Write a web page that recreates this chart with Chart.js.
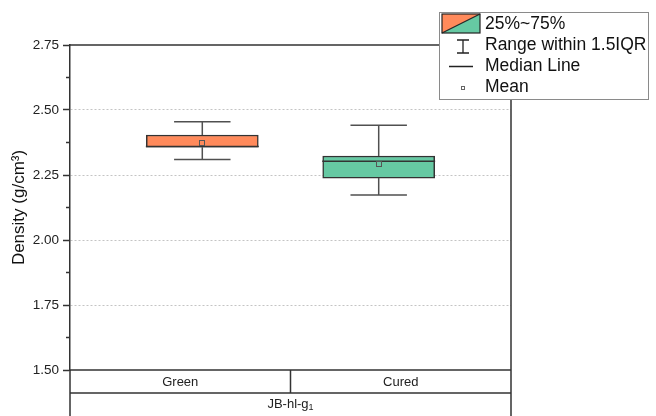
<!DOCTYPE html>
<html>
<head>
<meta charset="utf-8">
<script src="https://cdn.jsdelivr.net/npm/chart.js@4/dist/chart.umd.min.js"></script>
<style>
  html, body { margin: 0; padding: 0; background: #fff; }
  #wrap { width: 656px; height: 416px; }
</style>
</head>
<body>
<div id="wrap"><canvas id="myChart" width="656" height="416"></canvas></div>
<script>
// box plot values
const categories = ['Green', 'Cured'];
const q1 = [2.357, 2.238];
const q3 = [2.404, 2.323];
const median = [2.360, 2.303];
const whiskerLow = [2.310, 2.173];
const whiskerHigh = [2.455, 2.441];
const mean = [2.375, 2.292];
const yTicks = [1.50, 1.75, 2.00, 2.25, 2.50, 2.75];
const groupLabel = 'JB-hl-g';
const groupSub = '1';

const boxColors = ['#FF8A5B', '#66C9A3'];
const lineColor = '#333333';
const font = '"Liberation Sans", Arial, sans-serif';

// whiskers, median, mean
const boxExtras = {
    id: 'boxExtras',
    afterDatasetsDraw(chart) {
        const ctx = chart.ctx;
        const xs = chart.scales.x;
        const ys = chart.scales.y;
        ctx.save();
        for (let i = 0; i < categories.length; i++) {
            const xc = xs.getPixelForValue(i + 1);
            const capL = xs.getPixelForValue(i + 1 - 0.16);
            const capR = xs.getPixelForValue(i + 1 + 0.16);
            const boxL = xs.getPixelForValue(i + 1 - 0.32);
            const boxR = xs.getPixelForValue(i + 1 + 0.32);
            ctx.strokeStyle = '#505050';
            ctx.lineWidth = 1.5;
            ctx.beginPath();
            ctx.moveTo(xc, ys.getPixelForValue(whiskerHigh[i]));
            ctx.lineTo(xc, ys.getPixelForValue(q3[i]));
            ctx.moveTo(xc, ys.getPixelForValue(q1[i]));
            ctx.lineTo(xc, ys.getPixelForValue(whiskerLow[i]));
            ctx.moveTo(capL, ys.getPixelForValue(whiskerHigh[i]));
            ctx.lineTo(capR, ys.getPixelForValue(whiskerHigh[i]));
            ctx.moveTo(capL, ys.getPixelForValue(whiskerLow[i]));
            ctx.lineTo(capR, ys.getPixelForValue(whiskerLow[i]));
            ctx.stroke();
            // median
            ctx.strokeStyle = lineColor;
            ctx.lineWidth = 1.5;
            ctx.beginPath();
            ctx.moveTo(boxL, ys.getPixelForValue(median[i]));
            ctx.lineTo(boxR, ys.getPixelForValue(median[i]));
            ctx.stroke();
            // mean
            const my = ys.getPixelForValue(mean[i]);
            ctx.strokeStyle = '#555';
            ctx.lineWidth = 1;
            ctx.strokeRect(Math.round(xc) - 2.5, Math.round(my) - 2.5, 5, 5);
        }
        ctx.restore();
    }
};

// frame, minor ticks, category table and legend
const frame = {
    id: 'frame',
    afterDraw(chart) {
        const ctx = chart.ctx;
        const a = chart.chartArea;
        const ys = chart.scales.y;
        const mid = (a.left + a.right) / 2;
        const row1 = a.bottom + 23;
        const h = chart.height;
        ctx.save();
        ctx.strokeStyle = lineColor;
        ctx.lineWidth = 1.5;
        ctx.beginPath();
        ctx.moveTo(a.left, a.top);
        ctx.lineTo(a.right, a.top);
        ctx.moveTo(a.right, a.top);
        ctx.lineTo(a.right, h);
        ctx.moveTo(a.left, a.bottom);
        ctx.lineTo(a.right, a.bottom);
        ctx.moveTo(a.left, a.bottom);
        ctx.lineTo(a.left, h);
        ctx.moveTo(a.left, row1);
        ctx.lineTo(a.right, row1);
        ctx.moveTo(mid, a.bottom);
        ctx.lineTo(mid, row1);
        // minor ticks
        for (let i = 0; i < yTicks.length - 1; i++) {
            const y = ys.getPixelForValue((yTicks[i] + yTicks[i + 1]) / 2);
            ctx.moveTo(a.left - 4, y);
            ctx.lineTo(a.left, y);
        }
        ctx.stroke();

        ctx.fillStyle = '#222';
        ctx.font = '13px ' + font;
        ctx.textAlign = 'center';
        ctx.textBaseline = 'middle';
        ctx.fillText(categories[0], (a.left + mid) / 2, a.bottom + 12);
        ctx.fillText(categories[1], (mid + a.right) / 2, a.bottom + 12);
        const w1 = ctx.measureText(groupLabel).width;
        ctx.font = '9px ' + font;
        const w2 = ctx.measureText(groupSub).width;
        const gx = mid - (w1 + w2) / 2;
        ctx.textAlign = 'left';
        ctx.font = '13px ' + font;
        ctx.fillText(groupLabel, gx, row1 + 11);
        ctx.font = '9px ' + font;
        ctx.fillText(groupSub, gx + w1, row1 + 15);

        // legend
        const lx = 439, ly = 12, lw = 209, lh = 87;
        ctx.fillStyle = '#fff';
        ctx.fillRect(lx, ly, lw, lh);
        ctx.strokeStyle = '#8a8a8a';
        ctx.lineWidth = 1;
        ctx.strokeRect(lx + 0.5, ly + 0.5, lw, lh);

        const sx = 442, sy = 14, sw = 38, sh = 19;
        ctx.fillStyle = boxColors[0];
        ctx.beginPath();
        ctx.moveTo(sx, sy); ctx.lineTo(sx + sw, sy); ctx.lineTo(sx, sy + sh); ctx.closePath();
        ctx.fill();
        ctx.fillStyle = boxColors[1];
        ctx.beginPath();
        ctx.moveTo(sx + sw, sy); ctx.lineTo(sx + sw, sy + sh); ctx.lineTo(sx, sy + sh); ctx.closePath();
        ctx.fill();
        ctx.strokeStyle = '#222';
        ctx.lineWidth = 1.2;
        ctx.strokeRect(sx, sy, sw, sh);
        ctx.beginPath();
        ctx.moveTo(sx, sy + sh); ctx.lineTo(sx + sw, sy);
        ctx.stroke();

        ctx.strokeStyle = '#222';
        ctx.lineWidth = 1.3;
        ctx.beginPath();
        ctx.moveTo(463, 40); ctx.lineTo(463, 53);
        ctx.moveTo(457, 40); ctx.lineTo(469, 40);
        ctx.moveTo(457, 53); ctx.lineTo(469, 53);
        ctx.moveTo(449, 66.5); ctx.lineTo(473, 66.5);
        ctx.stroke();
        ctx.strokeStyle = '#666';
        ctx.lineWidth = 1;
        ctx.strokeRect(461.5, 86.5, 3, 3);

        ctx.fillStyle = '#111';
        ctx.font = '17.5px ' + font;
        ctx.textAlign = 'left';
        ctx.textBaseline = 'middle';
        ctx.fillText('25%~75%', 485, 24);
        ctx.fillText('Range within 1.5IQR', 485, 45.5);
        ctx.fillText('Median Line', 485, 66.5);
        ctx.fillText('Mean', 485, 87.5);
        ctx.restore();
    }
};

const ctx = document.getElementById('myChart').getContext('2d');
const myChart = new Chart(ctx, {
    type: 'bar',
    data: {
        datasets: [{
            label: '25%~75%',
            data: categories.map((c, i) => ({ x: i + 1, y: [q1[i], q3[i]] })),
            backgroundColor: boxColors,
            borderColor: lineColor,
            borderWidth: 1.5,
            borderSkipped: false,
            barThickness: 112
        }]
    },
    options: {
        responsive: false,
        animation: false,
        layout: { padding: { top: 45, right: 145, bottom: 46, left: 0 } },
        plugins: {
            legend: { display: false },
            tooltip: { enabled: false }
        },
        scales: {
            x: {
                type: 'linear',
                min: 0.25,
                max: 2.75,
                offset: false,
                display: false
            },
            y: {
                min: 1.5,
                max: 2.75,
                afterFit: s => { s.width = 70; },
                afterBuildTicks: s => { s.ticks = yTicks.map(v => ({ value: v })); },
                ticks: {
                    callback: v => v.toFixed(2),
                    color: '#222',
                    padding: 4,
                    font: { family: font, size: 13.5 }
                },
                grid: {
                    color: c => (c.tick && (c.tick.value === 1.5 || c.tick.value === 2.75)) ? 'rgba(0,0,0,0)' : '#c4c4c4',
                    lineWidth: 1,
                    tickColor: lineColor,
                    tickWidth: 1.5,
                    tickLength: 7
                },
                border: { display: true, color: lineColor, width: 1.5, dash: [2, 2] },
                title: {
                    display: true,
                    text: 'Density (g/cm³)',
                    color: '#111',
                    padding: { top: 9, bottom: 0 },
                    font: { family: font, size: 17 }
                }
            }
        }
    },
    plugins: [boxExtras, frame]
});
</script>
</body>
</html>
